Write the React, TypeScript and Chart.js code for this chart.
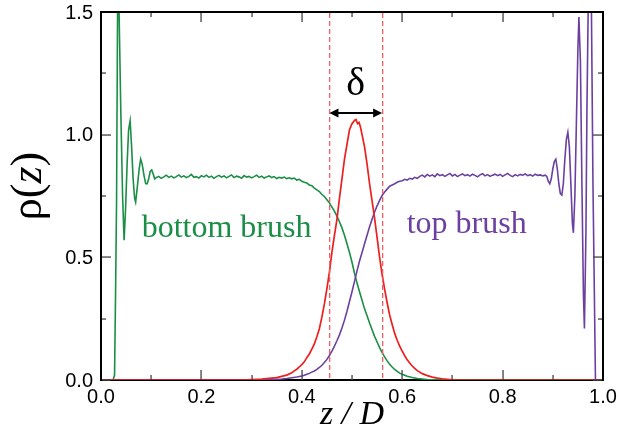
import React, { useEffect, useRef } from "react";
import { Chart, registerables } from "chart.js";

Chart.register(...registerables);

// ---------- data (x = z/D, y = rho(z)) ----------
const bottomBrushHead: [number, number][] = [
  [0, 0], [0.024, 0], [0.027, 0.02], [0.029, 0.35], [0.031, 0.73], [0.033, 1.5], [0.0345, 2.0],
  [0.036, 1.5], [0.0393, 1.11], [0.043, 0.75], [0.046, 0.57], [0.049, 0.7], [0.052, 0.88],
  [0.055, 1.02], [0.058, 1.056], [0.061, 0.95], [0.064, 0.82], [0.067, 0.74], [0.069, 0.725],
  [0.072, 0.78], [0.076, 0.86], [0.079, 0.9], [0.082, 0.88], [0.086, 0.83], [0.089, 0.8],
  [0.092, 0.8], [0.095, 0.82], [0.098, 0.85], [0.101, 0.856], [0.104, 0.84], [0.107, 0.82],
];
const bottomPlateauX = [
  0.11, 0.115, 0.12, 0.125, 0.13, 0.135, 0.14, 0.145, 0.15, 0.155,
  0.16, 0.165, 0.17, 0.175, 0.18, 0.185, 0.19, 0.195, 0.2, 0.205,
  0.21, 0.215, 0.22, 0.225, 0.23, 0.235, 0.24, 0.245, 0.25, 0.255,
  0.26, 0.265, 0.27, 0.275, 0.28, 0.285, 0.29, 0.295, 0.3, 0.305,
  0.31, 0.315, 0.32, 0.325, 0.33, 0.335, 0.34, 0.345, 0.35, 0.355,
  0.36, 0.365, 0.37,
];
const bottomPlateauY = [
  0.825, 0.83, 0.822, 0.828, 0.835, 0.826, 0.831, 0.824, 0.829, 0.836,
  0.827, 0.832, 0.825, 0.83, 0.838, 0.826, 0.829, 0.823, 0.833, 0.828,
  0.835, 0.826, 0.831, 0.822, 0.829, 0.834, 0.827, 0.832, 0.824, 0.83,
  0.836, 0.825, 0.831, 0.828, 0.822, 0.833, 0.827, 0.83, 0.824, 0.829,
  0.835, 0.826, 0.831, 0.823, 0.828, 0.832, 0.825, 0.829, 0.821, 0.826,
  0.823, 0.827, 0.821,
];
const bottomBrushTail: [number, number][] = [
  [0.375, 0.824], [0.38, 0.82], [0.385, 0.823], [0.39, 0.815], [0.395, 0.818], [0.4, 0.81],
  [0.405, 0.806], [0.41, 0.803], [0.415, 0.795], [0.42, 0.792], [0.425, 0.782], [0.43, 0.775],
  [0.435, 0.768], [0.44, 0.756], [0.445, 0.748], [0.45, 0.735], [0.455, 0.722], [0.46, 0.705],
  [0.465, 0.688], [0.47, 0.668], [0.475, 0.645], [0.48, 0.62], [0.485, 0.59], [0.49, 0.555],
  [0.495, 0.52], [0.5, 0.48], [0.505, 0.435], [0.51, 0.395], [0.515, 0.36], [0.52, 0.325],
  [0.525, 0.29], [0.53, 0.262], [0.535, 0.232], [0.54, 0.205], [0.545, 0.178], [0.55, 0.155],
  [0.555, 0.132], [0.56, 0.112], [0.565, 0.094], [0.57, 0.078], [0.575, 0.064], [0.58, 0.053],
  [0.585, 0.043], [0.59, 0.035], [0.595, 0.028], [0.6, 0.023], [0.61, 0.015], [0.62, 0.01],
  [0.63, 0.006], [0.64, 0.004], [0.65, 0.002], [0.67, 0.001], [0.7, 0], [1.0, 0],
];

const topBrushHead: [number, number][] = [
  [0, 0], [0.3, 0], [0.34, 0.002], [0.36, 0.004], [0.37, 0.006], [0.38, 0.009], [0.39, 0.012],
  [0.4, 0.016], [0.405, 0.019], [0.41, 0.023], [0.415, 0.027], [0.42, 0.032], [0.425, 0.037],
  [0.43, 0.043], [0.435, 0.051], [0.44, 0.06], [0.445, 0.071], [0.45, 0.084], [0.455, 0.1],
  [0.46, 0.118], [0.465, 0.138], [0.47, 0.16], [0.475, 0.184], [0.48, 0.212], [0.485, 0.244],
  [0.49, 0.28], [0.495, 0.32], [0.5, 0.36], [0.505, 0.402], [0.51, 0.445], [0.515, 0.485],
  [0.52, 0.52], [0.525, 0.555], [0.53, 0.59], [0.535, 0.625], [0.54, 0.655], [0.545, 0.685],
  [0.55, 0.71], [0.555, 0.732], [0.56, 0.752], [0.565, 0.766], [0.57, 0.778], [0.575, 0.79],
  [0.58, 0.795], [0.585, 0.8], [0.59, 0.806], [0.595, 0.81], [0.6, 0.812], [0.605, 0.818],
  [0.61, 0.815], [0.615, 0.822], [0.62, 0.819], [0.625, 0.826], [0.63, 0.822],
];
const topPlateauX = [
  0.635, 0.64, 0.645, 0.65, 0.655, 0.66, 0.665, 0.67, 0.675, 0.68,
  0.685, 0.69, 0.695, 0.7, 0.705, 0.71, 0.715, 0.72, 0.725, 0.73,
  0.735, 0.74, 0.745, 0.75, 0.755, 0.76, 0.765, 0.77, 0.775, 0.78,
  0.785, 0.79, 0.795, 0.8, 0.805, 0.81, 0.815, 0.82, 0.825, 0.83,
  0.835, 0.84, 0.845, 0.85, 0.855, 0.86, 0.865, 0.87, 0.875, 0.88, 0.885,
];
const topPlateauY = [
  0.83, 0.835, 0.828, 0.838, 0.831, 0.836, 0.829, 0.84, 0.833, 0.837,
  0.83, 0.836, 0.842, 0.832, 0.838, 0.829, 0.835, 0.84, 0.833, 0.837,
  0.831, 0.839, 0.834, 0.828, 0.836, 0.841, 0.832, 0.837, 0.83, 0.835,
  0.839, 0.833, 0.838, 0.83, 0.836, 0.842, 0.834, 0.829, 0.837, 0.832,
  0.838, 0.835, 0.84, 0.833, 0.837, 0.831, 0.839, 0.834, 0.836, 0.832, 0.835,
];
const topBrushTail: [number, number][] = [
  [0.888, 0.83], [0.891, 0.81], [0.894, 0.8], [0.897, 0.82], [0.9, 0.86], [0.903, 0.89],
  [0.906, 0.9], [0.909, 0.86], [0.912, 0.8], [0.915, 0.76], [0.918, 0.754], [0.921, 0.8],
  [0.924, 0.9], [0.927, 0.98], [0.93, 1.01], [0.933, 0.95], [0.936, 0.8], [0.939, 0.64],
  [0.941, 0.6], [0.944, 0.75], [0.947, 1.05], [0.95, 1.35], [0.952, 1.48], [0.955, 1.3],
  [0.958, 0.8], [0.961, 0.35], [0.963, 0.21], [0.966, 0.6], [0.968, 1.1], [0.971, 1.6],
  [0.9735, 2.2], [0.977, 1.5], [0.98, 0.8], [0.985, 0], [1.0, 0],
];

const interfaceProfile: [number, number][] = [
  [0, 0], [0.28, 0], [0.3, 0.002], [0.32, 0.004], [0.33, 0.006], [0.34, 0.008], [0.35, 0.01],
  [0.36, 0.015], [0.37, 0.02], [0.38, 0.03], [0.385, 0.037], [0.39, 0.044], [0.395, 0.053],
  [0.4, 0.063], [0.405, 0.074], [0.41, 0.091], [0.415, 0.106], [0.42, 0.126], [0.425, 0.147],
  [0.43, 0.176], [0.435, 0.209], [0.44, 0.256], [0.445, 0.31], [0.45, 0.372], [0.455, 0.44],
  [0.46, 0.52], [0.465, 0.59], [0.47, 0.655], [0.475, 0.74], [0.48, 0.82], [0.485, 0.9],
  [0.49, 0.96], [0.495, 1.02], [0.5, 1.045], [0.505, 1.058], [0.508, 1.062], [0.511, 1.045],
  [0.514, 1.05], [0.517, 1.03], [0.52, 1.0], [0.525, 0.95], [0.53, 0.88], [0.535, 0.8],
  [0.54, 0.73], [0.545, 0.66], [0.55, 0.58], [0.555, 0.5], [0.56, 0.43], [0.565, 0.37],
  [0.57, 0.315], [0.575, 0.265], [0.58, 0.226], [0.585, 0.19], [0.59, 0.162], [0.595, 0.138],
  [0.6, 0.118], [0.605, 0.099], [0.61, 0.082], [0.615, 0.069], [0.62, 0.057], [0.625, 0.047],
  [0.63, 0.038], [0.64, 0.026], [0.65, 0.018], [0.66, 0.012], [0.67, 0.008], [0.68, 0.005],
  [0.69, 0.003], [0.7, 0.001], [0.72, 0], [1.0, 0],
];

const xMajorTicks = [0, 0.2, 0.4, 0.6, 0.8, 1.0];
const xMinorTicks = [0.1, 0.3, 0.5, 0.7, 0.9];
const yMajorTicks = [0, 0.5, 1.0, 1.5];
const yMinorTicks = [0.25, 0.75, 1.25];

const frameCorners: [number, number][] = [[0, 0], [1, 0], [1, 1.5], [0, 1.5], [0, 0]];

const deltaLeft = 0.455;
const deltaRight = 0.56;
const arrowLevel = 1.088;

const labelBottom = { text: "bottom brush", x: 0.081, y: 0.584 };
const labelTop = { text: "top brush", x: 0.609, y: 0.599 };

const GREEN = "#1b8e46";
const PURPLE = "#6b40a0";
const RED = "#ee1f1f";

function toPoints(pairs: [number, number][]) {
  return pairs.map(([x, y]) => ({ x, y }));
}
function zipPoints(xs: number[], ys: number[]) {
  return xs.map((x, i) => ({ x, y: ys[i] }));
}

function drawTicksAndFrame(chart: any) {
  const { ctx, chartArea: a, scales } = chart;
  const xs = scales.x;
  const ys = scales.y;
  const L = a.left, R = a.right, T = a.top, B = a.bottom;
  ctx.save();
  ctx.fillStyle = "#444";
  const tickX = (v: number, len: number) => {
    const px = Math.round(xs.getPixelForValue(v)) - 0.6;
    ctx.fillRect(px, B - len, 1.3, len);
    ctx.fillRect(px, T, 1.3, len);
  };
  const tickY = (v: number, len: number) => {
    const py = Math.round(ys.getPixelForValue(v)) - 0.6;
    ctx.fillRect(L, py, len, 1.3);
    ctx.fillRect(R - len, py, len, 1.3);
  };
  xMajorTicks.forEach((v) => tickX(v, 10));
  xMinorTicks.forEach((v) => tickX(v, 5));
  yMajorTicks.forEach((v) => tickY(v, 10));
  yMinorTicks.forEach((v) => tickY(v, 5));
  ctx.fillStyle = "#000";
  ctx.fillRect(L - 1, T - 1, R - L + 2, 2);
  ctx.fillRect(L - 1, T - 1, 2, B - T + 2);
  ctx.fillRect(R - 1, T - 1, 2, B - T + 2);
  ctx.restore();
}

const decorPlugin = {
  id: "decor",
  afterDraw(chart: any) {
    const { ctx, chartArea: a, scales } = chart;
    const xs = scales.x;
    const ys = scales.y;
    const L = a.left, R = a.right, T = a.top, B = a.bottom;
    drawTicksAndFrame(chart);
    ctx.save();

    // dashed delta lines
    ctx.fillStyle = "#f06060";
    for (const v of [deltaLeft, deltaRight]) {
      const px = Math.round(xs.getPixelForValue(v));
      for (let yy = T + 1; yy < B - 1; yy += 8) {
        ctx.fillRect(px, yy, 1.3, Math.min(5, B - 1 - yy));
      }
    }

    // double arrow
    const x1 = xs.getPixelForValue(deltaLeft);
    const x2 = xs.getPixelForValue(deltaRight);
    const ay = Math.round(ys.getPixelForValue(arrowLevel));
    ctx.fillStyle = "#000";
    ctx.fillRect(x1 + 4, ay - 1, x2 - x1 - 8, 2);
    const head = (tip: number, dir: number) => {
      ctx.beginPath();
      ctx.moveTo(tip, ay);
      ctx.lineTo(tip + dir * 9, ay - 4.5);
      ctx.lineTo(tip + dir * 9, ay + 4.5);
      ctx.closePath();
      ctx.fill();
    };
    head(x1, 1);
    head(x2, -1);

    // delta symbol
    ctx.font = '40px "Liberation Serif"';
    ctx.textAlign = "center";
    ctx.textBaseline = "alphabetic";
    ctx.fillText("δ", (x1 + x2) / 2, ay - 18);

    // tick labels
    ctx.fillStyle = "#000";
    ctx.font = '20px "Liberation Sans"';
    ctx.textAlign = "center";
    ctx.textBaseline = "top";
    xMajorTicks.forEach((v) => {
      ctx.fillText(v.toFixed(1), xs.getPixelForValue(v), B + 7);
    });
    ctx.textAlign = "right";
    ctx.textBaseline = "middle";
    yMajorTicks.forEach((v) => {
      ctx.fillText(v.toFixed(1), L - 8, ys.getPixelForValue(v) + 1);
    });

    // series labels
    ctx.textBaseline = "alphabetic";
    ctx.font = '32px "Liberation Serif"';
    ctx.textAlign = "left";
    ctx.fillStyle = GREEN;
    ctx.fillText(labelBottom.text, xs.getPixelForValue(labelBottom.x), ys.getPixelForValue(labelBottom.y));
    ctx.fillStyle = PURPLE;
    ctx.fillText(labelTop.text, xs.getPixelForValue(labelTop.x), ys.getPixelForValue(labelTop.y));

    // x-axis title
    ctx.fillStyle = "#000";
    ctx.font = 'italic 34px "Liberation Serif"';
    ctx.textAlign = "center";
    ctx.fillText("z / D", (L + R) / 2, 424);

    // y-axis title: ρ(z)
    const parts = [
      { t: "ρ", f: '44px "Liberation Serif"' },
      { t: "(", f: '44px "Liberation Serif"' },
      { t: "z", f: 'italic 44px "Liberation Serif"' },
      { t: ")", f: '44px "Liberation Serif"' },
    ];
    let total = 0;
    const widths = parts.map((p) => {
      ctx.font = p.f;
      const w = ctx.measureText(p.t).width;
      total += w;
      return w;
    });
    ctx.translate(41, 186);
    ctx.rotate(-Math.PI / 2);
    ctx.textAlign = "left";
    let cx = -total / 2;
    parts.forEach((p, i) => {
      ctx.font = p.f;
      ctx.fillText(p.t, cx, 0);
      cx += widths[i];
    });

    ctx.restore();
  },
};

export default function App() {
  const ref = useRef<HTMLCanvasElement | null>(null);

  useEffect(() => {
    if (!ref.current) return;
    const bottomData = [
      ...toPoints(bottomBrushHead),
      ...zipPoints(bottomPlateauX, bottomPlateauY),
      ...toPoints(bottomBrushTail),
    ];
    const topData = [
      ...toPoints(topBrushHead),
      ...zipPoints(topPlateauX, topPlateauY),
      ...toPoints(topBrushTail),
    ];
    const chart = new Chart(ref.current, {
      type: "scatter",
      data: {
        datasets: [
          { data: toPoints(frameCorners), showLine: true, borderColor: "#000", borderWidth: 2, pointRadius: 0, tension: 0, clip: false, order: 4 },
          { data: bottomData, showLine: true, borderColor: GREEN, borderWidth: 1.6, pointRadius: 0, tension: 0, order: 3 },
          { data: topData, showLine: true, borderColor: PURPLE, borderWidth: 1.6, pointRadius: 0, tension: 0, order: 2 },
          { data: toPoints(interfaceProfile), showLine: true, borderColor: RED, borderWidth: 1.7, pointRadius: 0, tension: 0, order: 1 },
        ],
      },
      options: {
        responsive: false,
        animation: false,
        events: [],
        layout: { padding: { left: 101, right: 16, top: 12, bottom: 60 } },
        plugins: { legend: { display: false }, tooltip: { enabled: false } },
        scales: {
          x: { type: "linear", min: 0, max: 1, display: false },
          y: { type: "linear", min: 0, max: 1.5, display: false },
        },
      },
      plugins: [decorPlugin],
    });
    return () => chart.destroy();
  }, []);

  return (
    <div style={{ position: "absolute", left: 0, top: 0, width: 619, height: 440, background: "#fff" }}>
      <canvas ref={ref} width={619} height={440} style={{ display: "block" }} />
    </div>
  );
}
